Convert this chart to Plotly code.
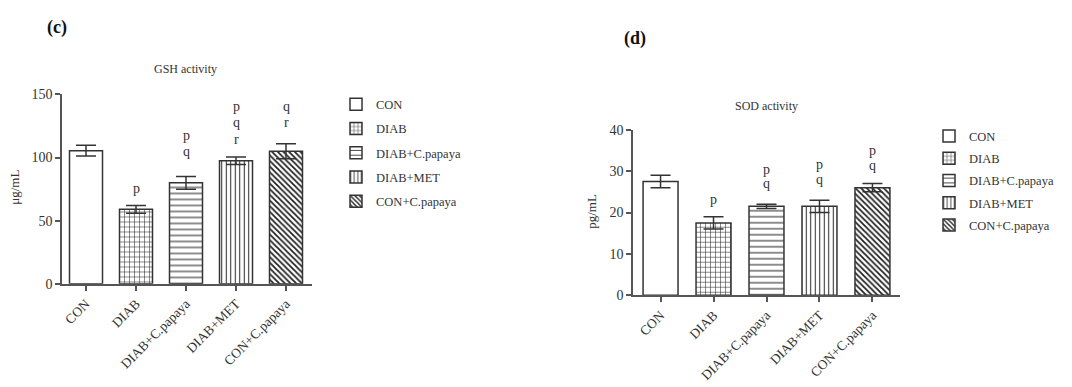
import plotly.graph_objects as go

# ---------------- data ----------------
groups = ["CON", "DIAB", "DIAB+C.papaya", "DIAB+MET", "CON+C.papaya"]

gsh_mean = [105.5, 59, 80, 97.5, 105]
gsh_err = [4.3, 3, 5, 3, 6]
gsh_sig = ["", "p", "pq", "pqr", "qr"]
gsh_sig_y = [0, 75.5, 104.5, 114.5, 127.5]   # value where the lowest letter sits

sod_mean = [27.5, 17.5, 21.5, 21.5, 26]
sod_err = [1.5, 1.5, 0.5, 1.5, 1]
sod_sig = ["", "p", "pq", "pq", "pq"]
sod_sig_y = [0, 23.2, 27.0, 28.0, 31.4]

gsh_ticks = [0, 50, 100, 150]
sod_ticks = [0, 10, 20, 30, 40]

patterns = ["", "+", "-", "|", "\\"]
pat_size = [6, 5, 6, 4.5, 4]
pat_sol = [0, 0.2, 0.17, 0.22, 0.45]

W, H = 1072, 387
FONT = "Liberation Serif, Times New Roman, serif"
INK = "#333333"
AX = "#555555"


def px(x):
    return x / W


def py(y):
    return 1 - y / H


fig = go.Figure()

for panel, (means, errs, xa, ya, leg) in enumerate([
    (gsh_mean, gsh_err, "x", "y", "legend"),
    (sod_mean, sod_err, "x2", "y2", "legend2"),
]):
    for i, g in enumerate(groups):
        fig.add_trace(go.Bar(
            x=[g], y=[means[i]], name=g,
            xaxis=xa, yaxis=ya, legend=leg, legendgroup=f"{leg}{i}",
            width=0.66,
            marker=dict(
                color="white",
                line=dict(color=INK, width=1.5),
                pattern=dict(shape=patterns[i], size=pat_size[i],
                             solidity=pat_sol[i], fgcolor="#222222",
                             bgcolor="white", fillmode="replace"),
            ),
            error_y=dict(type="data", array=[errs[i]], color=INK,
                         thickness=1.5, width=10),
            showlegend=True,
        ))

axis_common = dict(showline=True, linecolor=AX, linewidth=1.5, ticks="outside",
                   ticklen=5, tickcolor=AX, tickwidth=1.5, showgrid=False,
                   zeroline=False)
xfont = dict(family=FONT, size=13.5, color=INK)
yfont = dict(family=FONT, size=14, color=INK)

fig.update_layout(
    width=W, height=H, margin=dict(l=0, r=0, t=0, b=0, pad=0),
    paper_bgcolor="white", plot_bgcolor="white",
    barmode="overlay",
    font=dict(family=FONT, color=INK, size=12),
    xaxis=dict(domain=[px(62), px(312)], anchor="y", type="category",
               range=[-0.48, 4.52], tickangle=-45, tickfont=xfont, **axis_common),
    yaxis=dict(domain=[py(288), py(91)], anchor="x", range=[0, 150],
               tickvals=gsh_ticks, tickfont=yfont, **axis_common),
    xaxis2=dict(domain=[px(633), px(900)], anchor="y2", type="category",
                range=[-0.52, 4.52], tickangle=-45, tickfont=xfont, **axis_common),
    yaxis2=dict(domain=[py(300), py(127.7)], anchor="x2", range=[0, 40],
                tickvals=sod_ticks, tickfont=yfont, **axis_common),
    legend=dict(x=px(336), y=py(86), xanchor="left", yanchor="top",
                font=dict(family=FONT, size=12.5, color=INK),
                tracegroupgap=5, bgcolor="rgba(0,0,0,0)"),
    legend2=dict(x=px(929), y=py(119), xanchor="left", yanchor="top",
                 font=dict(family=FONT, size=12.5, color=INK),
                 tracegroupgap=3, bgcolor="rgba(0,0,0,0)"),
)

ann = []


def label(text, x, y, size, angle=0, color=INK):
    ann.append(dict(text=text, x=px(x), y=py(y), xref="paper", yref="paper",
                    xanchor="center", yanchor="middle", showarrow=False,
                    textangle=angle, font=dict(family=FONT, size=size, color=color)))


label("<b>(c)</b>", 57, 21, 18, color="#111")
label("<b>(d)</b>", 635, 33, 18, color="#111")
label("GSH activity", 185, 65, 12)
label("SOD activity", 766, 103, 12)
label("μg/mL", 15, 188, 13, angle=-90)
label("pg/mL", 592, 213, 13, angle=-90)

# significance letters
for sig, sy, xr, yr, step in [(gsh_sig, gsh_sig_y, "x", "y", 16.3),
                              (sod_sig, sod_sig_y, "x2", "y2", 14.5)]:
    for i, s in enumerate(sig):
        n = len(s)
        for k, ch in enumerate(s):
            ann.append(dict(text=ch, x=groups[i], y=sy[i], xref=xr, yref=yr,
                            xanchor="center", yanchor="middle",
                            yshift=(n - 1 - k) * step, showarrow=False,
                            font=dict(family=FONT, size=14, color=INK)))

fig.update_layout(annotations=ann)
fig.write_html(
    "out.html",
    config={"displayModeBar": False},
    post_script="document.body.style.margin='0px';document.body.style.overflow='hidden';",
)
